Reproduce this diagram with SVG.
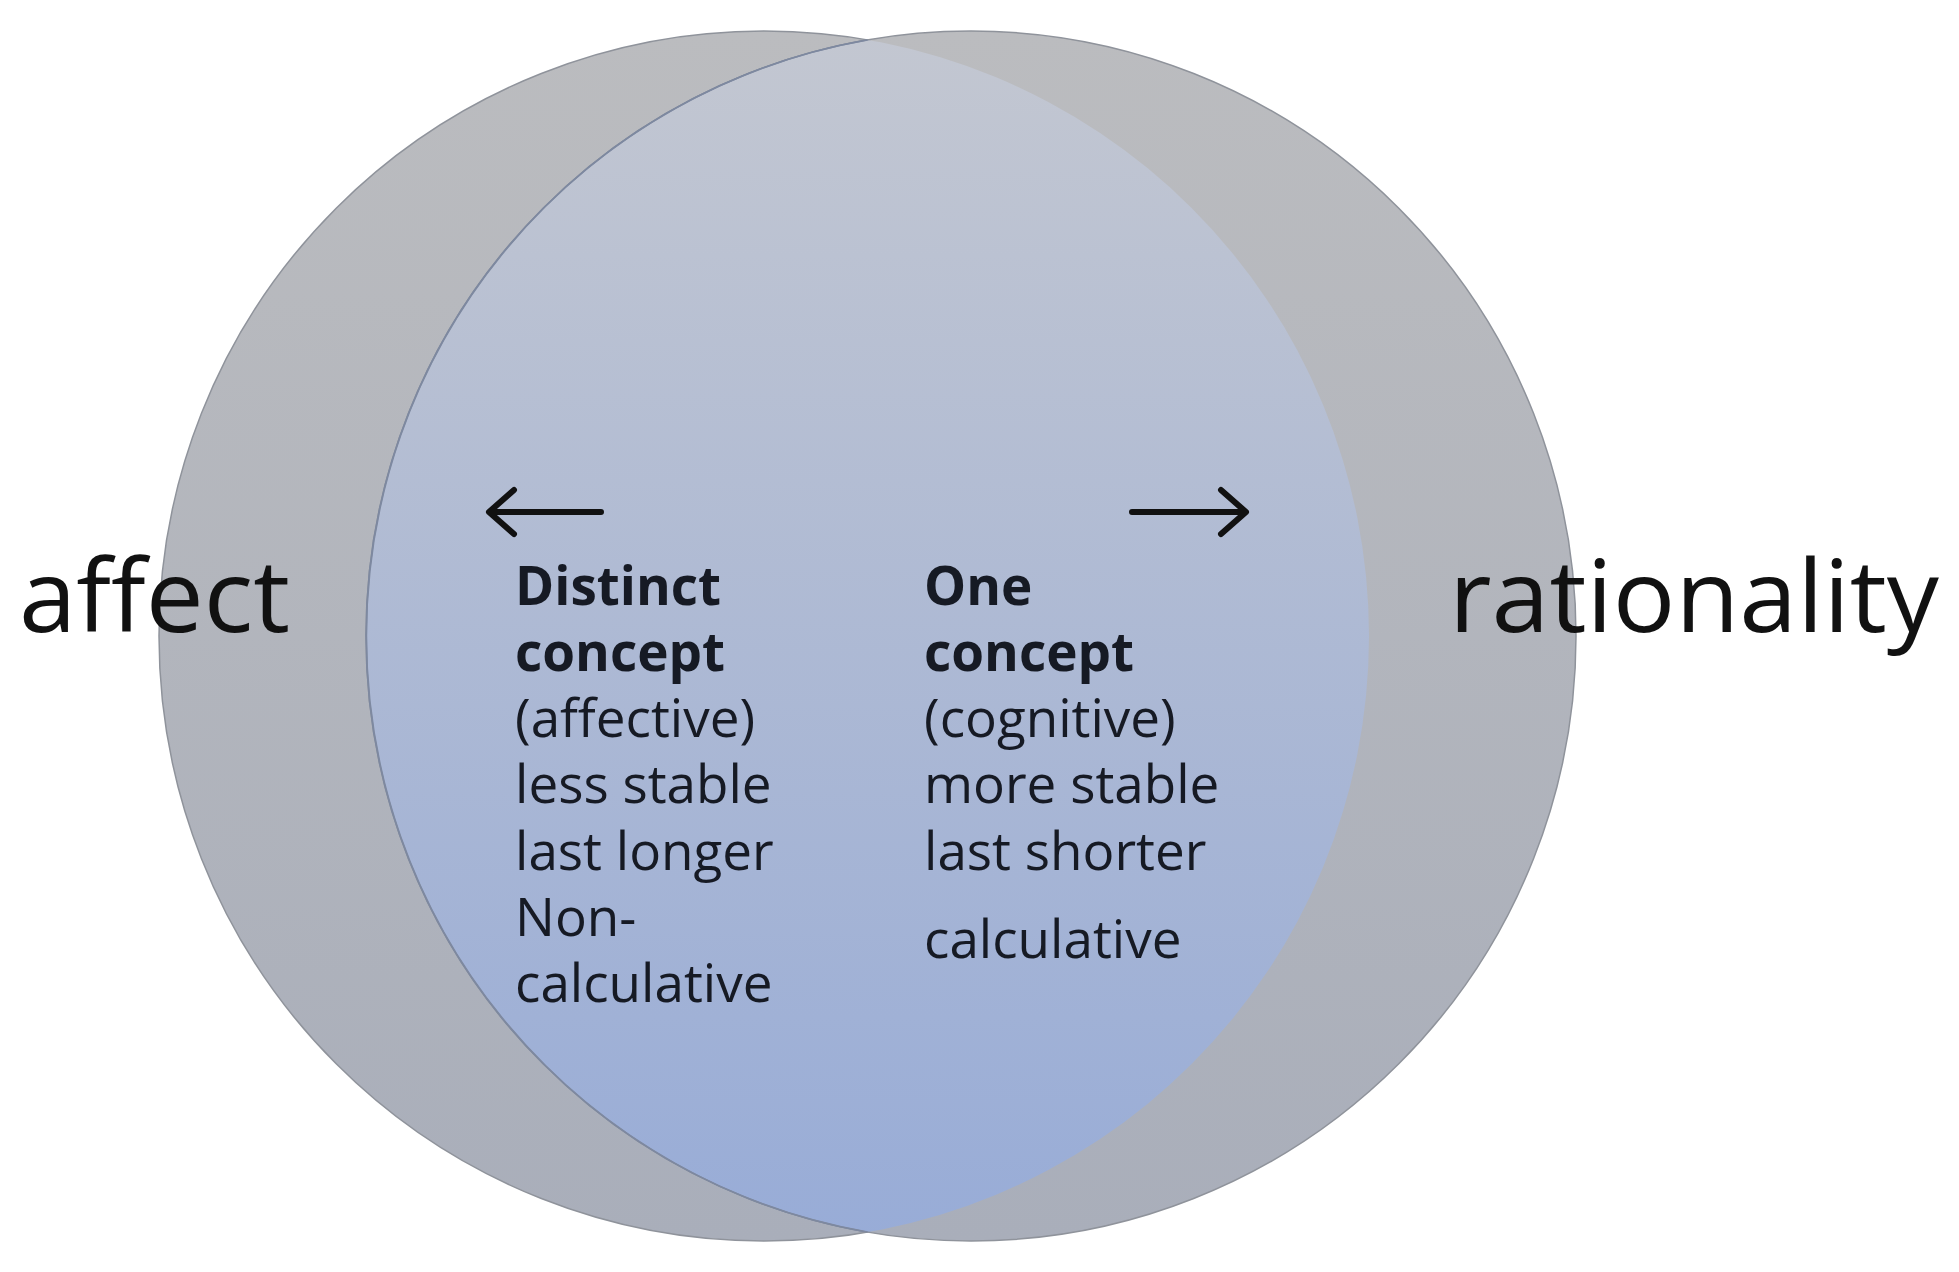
<svg xmlns="http://www.w3.org/2000/svg" width="1959" height="1272" viewBox="0 0 1959 1272">
<defs>
<linearGradient id="gGray" x1="0" y1="0" x2="0" y2="1">
<stop offset="0" stop-color="#bbbcbf"/>
<stop offset="1" stop-color="#a9aeba"/>
</linearGradient>
<linearGradient id="gLens" x1="0" y1="0" x2="0" y2="1">
<stop offset="0" stop-color="#c3c7d1"/>
<stop offset="1" stop-color="#98acd7"/>
</linearGradient>
<clipPath id="clipLeft"><circle cx="764" cy="636" r="605"/></clipPath>
<style>
.circ{fill:url(#gGray);stroke:#8f939b;stroke-width:1.5}
.lens{fill:url(#gLens);stroke:#7e89a0;stroke-width:1.5}
.big{font-family:"Open Sans","Noto Sans","DejaVu Sans",sans-serif;font-size:100px;fill:#111}
.body{font-family:"Open Sans","Noto Sans","DejaVu Sans",sans-serif;font-size:53px;fill:#161a24}
.bold{font-weight:bold}
.arrow{fill:none;stroke:#111;stroke-width:6;stroke-linecap:round;stroke-linejoin:round}
</style>
</defs>
<g id="circle-affect">
<circle class="circ" cx="764" cy="636" r="605"/>
</g>
<g id="circle-rationality">
<circle class="circ" cx="971" cy="636" r="605"/>
</g>
<g id="overlap">
<circle class="lens" cx="971" cy="636" r="605" clip-path="url(#clipLeft)"/>
<path d="M867.5,40 A605,605 0 0 0 867.5,1232" fill="none" stroke="#7e89a0" stroke-width="1.5"/>
</g>
<g id="label-affect">
<text class="big" x="19" y="632" textLength="271" lengthAdjust="spacingAndGlyphs">affect</text>
</g>
<g id="label-rationality">
<text class="big" x="1449" y="632" textLength="490" lengthAdjust="spacingAndGlyphs">rationality</text>
</g>
<g id="connectors">
<path class="arrow" d="M601,512 H491 M514,490 L489,512 L514,534"/>
<path class="arrow" d="M1132,512 H1244 M1221,490 L1246,512 L1221,534"/>
</g>
<g id="distinct-concept">
<text class="body bold" x="515" y="605">Distinct</text>
<text class="body bold" x="515" y="671">concept</text>
<text class="body" x="515" y="737">(affective)</text>
<text class="body" x="515" y="803">less stable</text>
<text class="body" x="515" y="870">last longer</text>
<text class="body" x="515" y="936">Non-</text>
<text class="body" x="515" y="1002">calculative</text>
</g>
<g id="one-concept">
<text class="body bold" x="924" y="605">One</text>
<text class="body bold" x="924" y="671">concept</text>
<text class="body" x="924" y="737">(cognitive)</text>
<text class="body" x="924" y="803">more stable</text>
<text class="body" x="924" y="870">last shorter</text>
<text class="body" x="924" y="958">calculative</text>
</g>
</svg>
